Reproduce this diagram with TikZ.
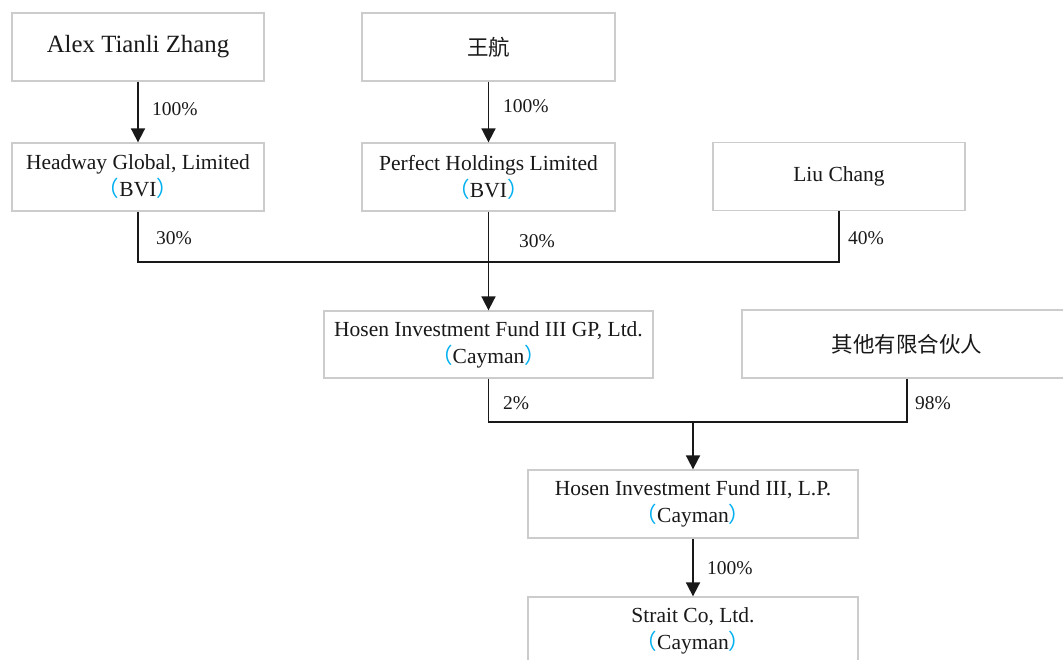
\documentclass[tikz,border=0pt]{standalone}
\usepackage{fontspec}
\setmainfont{Liberation Serif}
\newfontfamily\cjk{Noto Sans CJK SC}
\usepackage{tikz}
\usetikzlibrary{arrows.meta,positioning}
\usepackage{xcolor}
\definecolor{boxgray}{RGB}{204,204,204}
\definecolor{inkgray}{RGB}{25,25,25}
\definecolor{parcyan}{RGB}{0,176,240}
\tikzstyle{entity} = [rectangle, draw=boxgray, line width=1.3pt, fill=white, text=inkgray, align=center, inner sep=0pt, font=\fontsize{21.5}{27}\selectfont]
\tikzstyle{pct} = [inner sep=0pt, anchor=west, text=inkgray, font=\fontsize{19.5}{22}\selectfont]
\tikzstyle{link} = [line width=1.8pt, color=inkgray]
\tikzstyle{arrow} = [link, -{Triangle[length=14pt,width=14pt]}]
\newcommand{\juris}[1]{{\color{parcyan}\cjk （}#1{\color{parcyan}\cjk ）}}

\begin{document}
\begin{tikzpicture}[x=1pt, y=-1pt]
    \useasboundingbox (0,0) rectangle (1063,660);

    % Shareholders
    \node[entity, minimum width=252pt, minimum height=68pt, font=\fontsize{24.8}{28}\selectfont] (alex) at (138,47) {Alex Tianli Zhang};
    \node[entity, minimum width=253pt, minimum height=68pt] (wang) at (488.5,47) {\cjk 王航};

    \node[entity, minimum width=252pt, minimum height=68pt] (headway) at (138,177) {Headway Global, Limited\\\juris{BVI}};
    \node[entity, minimum width=253pt, minimum height=68pt] (perfect) at (488.5,177) {Perfect Holdings Limited\\\juris{BVI}};
    \node[entity, minimum width=252pt, minimum height=68pt] (liu) at (839,176.5) {Liu Chang};

    % General partner and limited partners
    \node[entity, minimum width=329pt, minimum height=67pt] (gp) at (488.5,344.5) {Hosen Investment Fund III GP, Ltd.\\\juris{Cayman}};
    \node[entity, minimum width=330pt, minimum height=68pt] (others) at (907,344) {\cjk 其他有限合伙人};

    % Fund and holding company
    \node[entity, minimum width=330pt, minimum height=68pt] (lp) at (693,504) {Hosen Investment Fund III, L.P.\\\juris{Cayman}};
    \node[entity, minimum width=330pt, minimum height=68pt] (strait) at (693,631) {Strait Co, Ltd.\\\juris{Cayman}};

    % Connectors
    \draw[arrow] (alex) -- (headway);
    \draw[arrow] (wang) -- (perfect);
    \draw[link] (headway.south) -- ++(0,50) -| (liu.south);
    \draw[arrow] (perfect) -- (gp);
    \draw[link] (gp.south) -- ++(0,43) -| (others.south);
    \coordinate (join) at (693,421);
    \draw[arrow] (join) -- (lp);
    \draw[arrow] (lp) -- (strait);

    % Percentages
    \node[pct] at (152,109) {100\%};
    \node[pct] at (503,106) {100\%};
    \node[pct] at (156,238) {30\%};
    \node[pct] at (519,241) {30\%};
    \node[pct] at (848,238) {40\%};
    \node[pct] at (503,403) {2\%};
    \node[pct] at (915,403) {98\%};
    \node[pct] at (707,568) {100\%};
\end{tikzpicture}
\end{document}
